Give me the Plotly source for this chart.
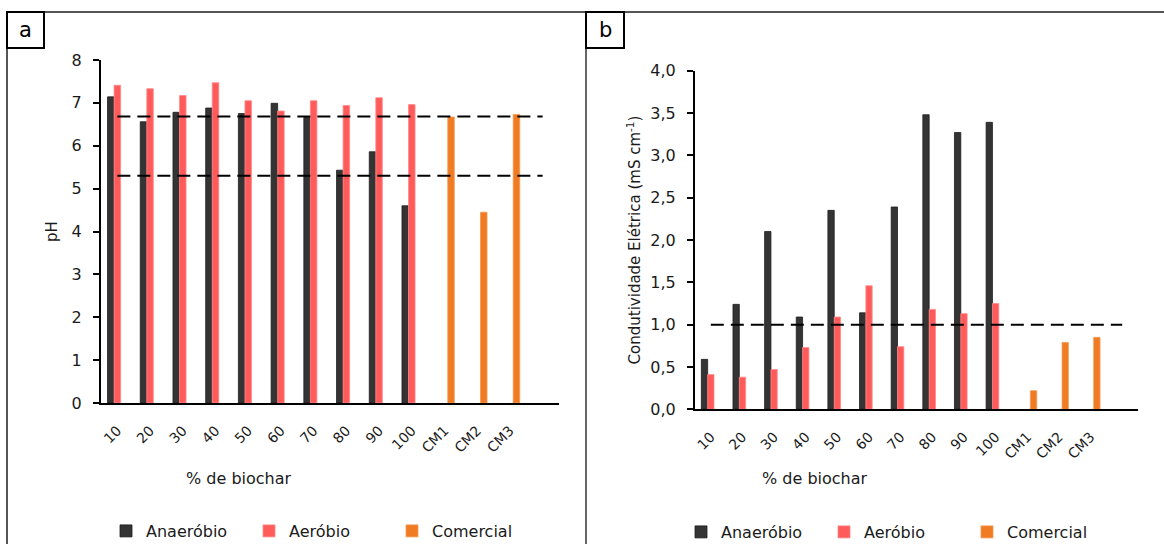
import plotly.graph_objects as go

# ---- data -------------------------------------------------------------
categories = ["10", "20", "30", "40", "50", "60", "70", "80", "90", "100",
              "CM1", "CM2", "CM3"]

ph_anaerobio = [7.14, 6.56, 6.78, 6.88, 6.75, 6.99, 6.66, 5.43, 5.86, 4.60,
                None, None, None]
ph_aerobio = [7.41, 7.33, 7.17, 7.47, 7.05, 6.81, 7.05, 6.94, 7.12, 6.96,
              None, None, None]
ph_comercial = [None] * 10 + [6.67, 4.45, 6.73]

ce_anaerobio = [0.59, 1.24, 2.10, 1.09, 2.35, 1.14, 2.39, 3.48, 3.27, 3.39,
                None, None, None]
ce_aerobio = [0.41, 0.38, 0.47, 0.73, 1.09, 1.46, 0.74, 1.18, 1.13, 1.25,
              None, None, None]
ce_comercial = [None] * 10 + [0.22, 0.79, 0.85]

ph_limits = [5.3, 6.68]      # recommended pH range
ce_limit = [1.0]             # recommended EC limit

ph_ticks = [0, 1, 2, 3, 4, 5, 6, 7, 8]
ce_ticks = [0.0, 0.5, 1.0, 1.5, 2.0, 2.5, 3.0, 3.5, 4.0]

series_names = ["Anaeróbio", "Aeróbio", "Comercial"]

# ---- styling ----------------------------------------------------------
W, H = 1164, 544
FONT = "DejaVu Sans"
C_BLACK = "#343434"
C_RED = "#FF5B5B"
C_ORANGE = "#F07B22"
EDGES = ["#1e1e1e", "#ff8a8a", "#f39a55"]
COLORS = [C_BLACK, C_RED, C_ORANGE]


def px_x(p):
    return p / W


def px_y(p):
    return 1 - p / H


fig = go.Figure()

panels = [
    (("x", "y"), [ph_anaerobio, ph_aerobio, ph_comercial], "legend"),
    (("x2", "y2"), [ce_anaerobio, ce_aerobio, ce_comercial], "legend2"),
]
for (xa, ya), series, leg in panels:
    for name, vals, col, edge in zip(series_names, series, COLORS, EDGES):
        fig.add_trace(go.Bar(
            x=categories, y=vals, name=name, xaxis=xa, yaxis=ya,
            marker=dict(color=col, line=dict(color=edge, width=0.8)),
            legend=leg, hoverinfo="x+y",
        ))

tickfont = dict(family=FONT, size=16, color="#1a1a1a")
catfont = dict(family=FONT, size=14, color="#1a1a1a")

common_x = dict(
    type="category", range=[-0.5, 13.5], showline=True, linecolor="black",
    linewidth=2, ticks="", showgrid=False, zeroline=False, tickangle=-45,
    tickfont=catfont, ticklabelstandoff=12, automargin=False,
)
common_y = dict(
    showline=True, linecolor="black", linewidth=2, ticks="outside", ticklen=6,
    tickwidth=2, tickcolor="black", showgrid=False, zeroline=False,
    tickfont=tickfont, ticklabelstandoff=8, automargin=False,
)
cross_y = dict(
    showline=False, ticks="inside", ticklen=6, tickwidth=2, tickcolor="black",
    showgrid=False, zeroline=False, showticklabels=False, automargin=False,
)

ya_dom = [px_y(403), px_y(60)]
yb_dom = [px_y(409.3), px_y(70.7)]

legend_common = dict(orientation="h", xanchor="left", yanchor="middle",
                     font=dict(family=FONT, size=16, color="#1a1a1a"),
                     entrywidth=98, entrywidthmode="pixels",
                     bgcolor="rgba(0,0,0,0)", traceorder="normal")

fig.update_layout(
    width=W, height=H,
    margin=dict(l=0, r=0, t=0, b=0, pad=0, autoexpand=False),
    paper_bgcolor="white", plot_bgcolor="rgba(0,0,0,0)",
    barmode="group", bargap=0.4, bargroupgap=0.0,
    separators=",.",
    font=dict(family=FONT, size=15, color="#1a1a1a"),
    xaxis=dict(domain=[px_x(101), px_x(559)], anchor="y", **common_x),
    yaxis=dict(domain=ya_dom, anchor="x", range=[0, 8], tickvals=ph_ticks,
               title=dict(text="pH", standoff=10,
                          font=dict(family=FONT, size=15)),
               **common_y),
    yaxis3=dict(overlaying="y", anchor="x", range=[0, 8], tickvals=ph_ticks,
                **cross_y),
    xaxis2=dict(domain=[px_x(695), px_x(1138)], anchor="y2", **common_x),
    yaxis2=dict(domain=yb_dom, anchor="x2", range=[0, 4], tickvals=ce_ticks,
                tickformat=".1f",
                title=dict(text="Condutividade Elétrica (mS cm<sup>-1</sup>)",
                           standoff=6, font=dict(family=FONT, size=15)),
                **common_y),
    yaxis4=dict(overlaying="y2", anchor="x2", range=[0, 4], tickvals=ce_ticks,
                **cross_y),
    legend=dict(x=px_x(106), y=px_y(531), **legend_common),
    legend2=dict(x=px_x(681), y=px_y(532), **legend_common),
    showlegend=True,
)

# dashed reference lines from first to last category
dash = dict(color="black", width=2, dash="13px,7px")
for v in ph_limits:
    fig.add_shape(type="line", xref="x", yref="y", x0=0, x1=13, y0=v, y1=v,
                  line=dash, layer="above")
for v in ce_limit:
    fig.add_shape(type="line", xref="x2", yref="y2", x0=0, x1=13, y0=v, y1=v,
                  line=dash, layer="above")

# panel frames
frame = dict(color="#555555", width=2)
fig.add_shape(type="line", xref="paper", yref="paper", x0=px_x(7), x1=1,
              y0=px_y(12), y1=px_y(12), line=frame)
fig.add_shape(type="line", xref="paper", yref="paper", x0=px_x(7), x1=px_x(7),
              y0=px_y(12), y1=0, line=frame)
fig.add_shape(type="line", xref="paper", yref="paper", x0=px_x(586),
              x1=px_x(586), y0=px_y(12), y1=0,
              line=dict(color="#333333", width=1.5))

# panel letters
for letter, x0, x1 in [("a", 7, 44), ("b", 586, 624)]:
    fig.add_shape(type="rect", xref="paper", yref="paper", x0=px_x(x0),
                  x1=px_x(x1), y0=px_y(48), y1=px_y(12),
                  line=dict(color="black", width=2), fillcolor="white")
    fig.add_annotation(x=px_x((x0 + x1) / 2), y=px_y(30), xref="paper",
                       yref="paper", text=letter, showarrow=False,
                       font=dict(family=FONT, size=21, color="black"),
                       xanchor="center", yanchor="middle")

# x-axis titles
for cx in (239, 815):
    fig.add_annotation(x=px_x(cx), y=px_y(478), xref="paper", yref="paper",
                       text="% de biochar", showarrow=False,
                       font=dict(family=FONT, size=16, color="#1a1a1a"),
                       xanchor="center", yanchor="middle")

# pin the plot to the top-left corner of the page
fig.write_html(
    "out.html",
    post_script=(
        "document.documentElement.style.margin='0';"
        "document.body.style.margin='0';"
        "document.body.style.overflow='hidden';"
        "var d=document.getElementById('{plot_id}');"
        "d.style.position='fixed';d.style.left='0px';d.style.top='0px';"
    ),
)
